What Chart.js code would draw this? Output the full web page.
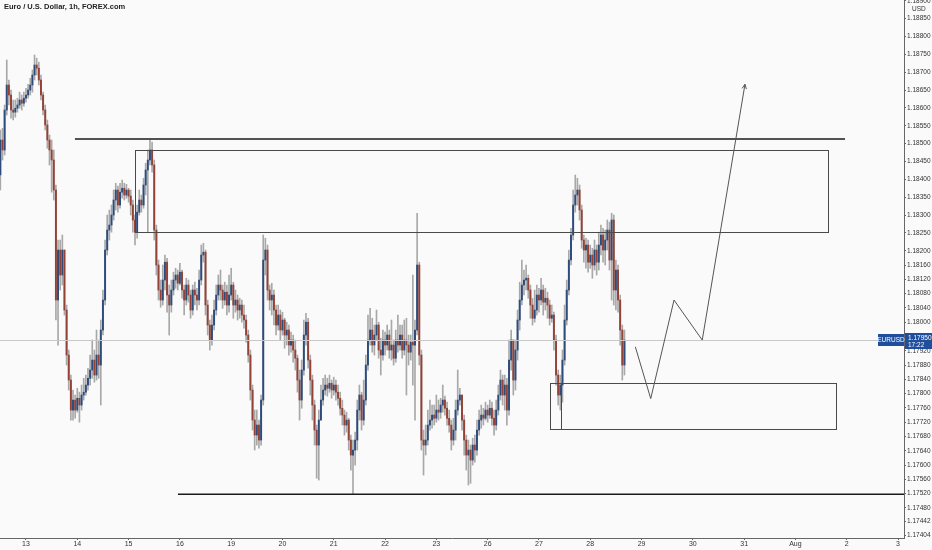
<!DOCTYPE html>
<html>
<head>
<meta charset="utf-8">
<script src="https://cdn.jsdelivr.net/npm/chart.js@4.4.0/dist/chart.umd.min.js"></script>
<style>
  html, body { margin: 0; padding: 0; background: #fafafa; }
  #wrap { position: relative; width: 932px; height: 550px; }
  #title { position: absolute; left: 4px; top: 2px; font: bold 7.5px "Liberation Sans", Arial, sans-serif; color: #222; }
</style>
</head>
<body>
<div id="wrap">
  <canvas id="chart" width="932" height="550"></canvas>
  <div id="title">Euro / U.S. Dollar, 1h, FOREX.com</div>
</div>
<script>
// Rótulos do eixo de tempo (um por dia de negociação / futuro)
const dayLabels = ['13', '14', '15', '16', '19', '20', '21', '22', '23', '26', '27', '28', '29', '30', '31', 'Aug', '2', '3'];

// Rótulos do eixo de preço (como aparecem no gráfico)
const priceTicks = ['1.18900', '1.18850', '1.18800', '1.18750', '1.18700', '1.18650', '1.18600', '1.18550',
    '1.18500', '1.18450', '1.18400', '1.18350', '1.18300', '1.18250', '1.18200', '1.18160', '1.18120',
    '1.18080', '1.18040', '1.18000', '1.17960', '1.17920', '1.17880', '1.17840', '1.17800', '1.17760', '1.17720',
    '1.17680', '1.17640', '1.17600', '1.17560', '1.17520', '1.17480', '1.17442', '1.17404'];

// Velas de 1h: hora da primeira vela (relativa a 13/07 00:00)
const firstHour = -12;
const firstOpen = 1.18412;

const closes = [
    1.18510, 1.18482, 1.18594, 1.18664, 1.18636, 1.18594, 1.18588, 1.18599, 1.18608, 1.18622,
    1.18613, 1.18627, 1.18636, 1.18650, 1.18664, 1.18692, 1.18720, 1.18711, 1.18678, 1.18636,
    1.18594, 1.18552, 1.18510, 1.18482, 1.18454, 1.18370, 1.18062, 1.18202, 1.18132, 1.18202,
    1.18034, 1.17908, 1.17838, 1.17754, 1.17782, 1.17754, 1.17787, 1.17768, 1.17796, 1.17804,
    1.17824, 1.17843, 1.17866, 1.17894, 1.17852, 1.17908, 1.17880, 1.17978, 1.18062, 1.18202,
    1.18258, 1.18272, 1.18300, 1.18342, 1.18370, 1.18328, 1.18364, 1.18375, 1.18356, 1.18370,
    1.18353, 1.18328, 1.18286, 1.18252, 1.18308, 1.18342, 1.18328, 1.18384, 1.18426, 1.18454,
    1.18482, 1.18440, 1.18258, 1.18160, 1.18090, 1.18062, 1.18118, 1.18168, 1.18076, 1.18048,
    1.18090, 1.18118, 1.18132, 1.18109, 1.18140, 1.18090, 1.18062, 1.18104, 1.18076, 1.18034,
    1.18090, 1.18076, 1.18062, 1.18118, 1.18188, 1.18196, 1.18048, 1.17992, 1.17950, 1.17992,
    1.18034, 1.18076, 1.18104, 1.18090, 1.18062, 1.18084, 1.18048, 1.18076, 1.18104, 1.18048,
    1.18062, 1.18034, 1.18048, 1.18020, 1.18006, 1.17964, 1.17908, 1.17810, 1.17726, 1.17684,
    1.17712, 1.17670, 1.17782, 1.18174, 1.18202, 1.18090, 1.18062, 1.18076, 1.18034, 1.17992,
    1.18020, 1.17978, 1.18006, 1.17964, 1.17978, 1.17936, 1.17950, 1.17922, 1.17899, 1.17838,
    1.17782, 1.17866, 1.17964, 1.18000, 1.17894, 1.17838, 1.17768, 1.17698, 1.17656, 1.17726,
    1.17782, 1.17810, 1.17824, 1.17815, 1.17829, 1.17810, 1.17824, 1.17804, 1.17787, 1.17759,
    1.17740, 1.17712, 1.17726, 1.17670, 1.17628, 1.17642, 1.17670, 1.17754, 1.17796, 1.17726,
    1.17782, 1.17880, 1.17950, 1.17978, 1.17936, 1.17964, 1.17992, 1.17922, 1.17908, 1.17950,
    1.17936, 1.17964, 1.17922, 1.17936, 1.17899, 1.17950, 1.17936, 1.17964, 1.17922, 1.17950,
    1.17936, 1.17916, 1.17944, 1.17936, 1.17978, 1.18160, 1.17908, 1.17670, 1.17656, 1.17670,
    1.17712, 1.17726, 1.17740, 1.17731, 1.17754, 1.17748, 1.17768, 1.17782, 1.17759, 1.17731,
    1.17712, 1.17670, 1.17698, 1.17754, 1.17782, 1.17796, 1.17726, 1.17670, 1.17628, 1.17642,
    1.17614, 1.17656, 1.17642, 1.17698, 1.17726, 1.17740, 1.17731, 1.17754, 1.17740, 1.17759,
    1.17731, 1.17712, 1.17754, 1.17796, 1.17838, 1.17796, 1.17824, 1.17754, 1.17894, 1.17950,
    1.17838, 1.17922, 1.18006, 1.18062, 1.18104, 1.18118, 1.18123, 1.18090, 1.18048, 1.18011,
    1.18034, 1.18076, 1.18062, 1.18090, 1.18056, 1.18067, 1.18048, 1.18011, 1.18020, 1.17950,
    1.17852, 1.17796, 1.17824, 1.17894, 1.18006, 1.18090, 1.18174, 1.18244, 1.18328, 1.18356,
    1.18370, 1.18314, 1.18230, 1.18202, 1.18216, 1.18168, 1.18188, 1.18160, 1.18202, 1.18168,
    1.18216, 1.18244, 1.18202, 1.18230, 1.18258, 1.18174, 1.18286, 1.18090, 1.18146, 1.18062,
    1.17978, 1.17880, 1.17950
];

const highs = [
    1.18538, 1.18543, 1.18608, 1.18734, 1.18678, 1.18650, 1.18622, 1.18622, 1.18627, 1.18644,
    1.18636, 1.18644, 1.18655, 1.18666, 1.18683, 1.18706, 1.18748, 1.18739, 1.18728, 1.18692,
    1.18644, 1.18608, 1.18566, 1.18524, 1.18510, 1.18482, 1.18384, 1.18230, 1.18230, 1.18244,
    1.18188, 1.18048, 1.17922, 1.17852, 1.17810, 1.17796, 1.17815, 1.17804, 1.17824, 1.17843,
    1.17852, 1.17871, 1.17908, 1.17950, 1.17922, 1.17978, 1.17950, 1.18006, 1.18090, 1.18230,
    1.18300, 1.18314, 1.18328, 1.18370, 1.18389, 1.18381, 1.18389, 1.18398, 1.18389, 1.18386,
    1.18375, 1.18370, 1.18342, 1.18300, 1.18328, 1.18370, 1.18356, 1.18403, 1.18445, 1.18482,
    1.18510, 1.18504, 1.18454, 1.18272, 1.18174, 1.18118, 1.18160, 1.18188, 1.18179, 1.18104,
    1.18118, 1.18140, 1.18151, 1.18146, 1.18165, 1.18146, 1.18104, 1.18123, 1.18118, 1.18090,
    1.18104, 1.18112, 1.18095, 1.18146, 1.18216, 1.18221, 1.18202, 1.18062, 1.18006, 1.18020,
    1.18062, 1.18104, 1.18132, 1.18146, 1.18104, 1.18112, 1.18104, 1.18132, 1.18151, 1.18112,
    1.18090, 1.18076, 1.18067, 1.18062, 1.18048, 1.18020, 1.17978, 1.17922, 1.17824, 1.17754,
    1.17754, 1.17726, 1.17796, 1.18244, 1.18235, 1.18216, 1.18104, 1.18109, 1.18090, 1.18048,
    1.18048, 1.18034, 1.18028, 1.18011, 1.18000, 1.17992, 1.17972, 1.17964, 1.17950, 1.17908,
    1.17866, 1.17894, 1.18006, 1.18025, 1.18011, 1.17908, 1.17852, 1.17782, 1.17712, 1.17754,
    1.17824, 1.17843, 1.17852, 1.17843, 1.17852, 1.17838, 1.17846, 1.17838, 1.17824, 1.17804,
    1.17782, 1.17754, 1.17748, 1.17731, 1.17684, 1.17670, 1.17692, 1.17782, 1.17824, 1.17804,
    1.17838, 1.17908, 1.18020, 1.18039, 1.18011, 1.17992, 1.18034, 1.18000, 1.17955, 1.17978,
    1.17972, 1.17992, 1.17978, 1.18006, 1.17950, 1.17978, 1.18020, 1.17992, 1.17992, 1.18006,
    1.18011, 1.17964, 1.17964, 1.18132, 1.18006, 1.18305, 1.18168, 1.17922, 1.17698, 1.17712,
    1.17754, 1.17782, 1.17768, 1.17768, 1.17796, 1.17782, 1.17787, 1.17824, 1.17793, 1.17776,
    1.17754, 1.17726, 1.17731, 1.17782, 1.17866, 1.17815, 1.17796, 1.17740, 1.17684, 1.17670,
    1.17656, 1.17675, 1.17684, 1.17726, 1.17754, 1.17768, 1.17759, 1.17776, 1.17768, 1.17782,
    1.17776, 1.17754, 1.17782, 1.17824, 1.17866, 1.17852, 1.17852, 1.17843, 1.17950, 1.17978,
    1.17950, 1.17950, 1.18034, 1.18112, 1.18174, 1.18146, 1.18160, 1.18132, 1.18104, 1.18067,
    1.18090, 1.18104, 1.18095, 1.18123, 1.18104, 1.18095, 1.18084, 1.18062, 1.18048, 1.18028,
    1.17964, 1.17866, 1.17852, 1.17922, 1.18048, 1.18118, 1.18202, 1.18263, 1.18370, 1.18412,
    1.18403, 1.18384, 1.18328, 1.18244, 1.18235, 1.18230, 1.18216, 1.18207, 1.18230, 1.18216,
    1.18252, 1.18272, 1.18263, 1.18258, 1.18286, 1.18280, 1.18305, 1.18300, 1.18174, 1.18160,
    1.18076, 1.17992, 1.17978
];

const lows = [
    1.18370, 1.18454, 1.18468, 1.18580, 1.18608, 1.18571, 1.18566, 1.18574, 1.18588, 1.18599,
    1.18594, 1.18605, 1.18616, 1.18627, 1.18636, 1.18644, 1.18678, 1.18692, 1.18664, 1.18622,
    1.18580, 1.18538, 1.18487, 1.18440, 1.18364, 1.18342, 1.18006, 1.17936, 1.18090, 1.18104,
    1.18020, 1.17880, 1.17810, 1.17726, 1.17726, 1.17731, 1.17748, 1.17720, 1.17754, 1.17782,
    1.17796, 1.17810, 1.17824, 1.17843, 1.17832, 1.17838, 1.17843, 1.17768, 1.17964, 1.18048,
    1.18188, 1.18230, 1.18252, 1.18286, 1.18314, 1.18308, 1.18319, 1.18347, 1.18342, 1.18347,
    1.18336, 1.18300, 1.18252, 1.18216, 1.18235, 1.18300, 1.18308, 1.18319, 1.18356, 1.18252,
    1.18440, 1.18420, 1.18230, 1.18132, 1.18062, 1.18042, 1.18048, 1.18090, 1.18028, 1.17964,
    1.18028, 1.18076, 1.18095, 1.18090, 1.18104, 1.18067, 1.18020, 1.18048, 1.18056, 1.18011,
    1.18020, 1.18048, 1.18034, 1.18048, 1.18104, 1.18168, 1.18020, 1.17964, 1.17922, 1.17936,
    1.17978, 1.18020, 1.18062, 1.18062, 1.18039, 1.18048, 1.18020, 1.18028, 1.18062, 1.18011,
    1.18028, 1.18006, 1.18011, 1.18000, 1.17983, 1.17944, 1.17888, 1.17782, 1.17698, 1.17642,
    1.17656, 1.17647, 1.17656, 1.17768, 1.18132, 1.18062, 1.18034, 1.18020, 1.17992, 1.17964,
    1.17978, 1.17950, 1.17964, 1.17927, 1.17936, 1.17908, 1.17916, 1.17888, 1.17866, 1.17804,
    1.17726, 1.17759, 1.17852, 1.17936, 1.17871, 1.17796, 1.17726, 1.17656, 1.17563, 1.17558,
    1.17726, 1.17768, 1.17796, 1.17793, 1.17804, 1.17787, 1.17796, 1.17782, 1.17768, 1.17740,
    1.17712, 1.17684, 1.17692, 1.17642, 1.17586, 1.17518, 1.17600, 1.17642, 1.17726, 1.17698,
    1.17712, 1.17768, 1.17866, 1.17936, 1.17916, 1.17908, 1.17950, 1.17899, 1.17852, 1.17894,
    1.17908, 1.17922, 1.17899, 1.17894, 1.17880, 1.17888, 1.17916, 1.17922, 1.17899, 1.17908,
    1.17796, 1.17880, 1.17894, 1.17824, 1.17726, 1.17964, 1.17880, 1.17642, 1.17572, 1.17628,
    1.17656, 1.17698, 1.17703, 1.17712, 1.17720, 1.17726, 1.17731, 1.17748, 1.17740, 1.17712,
    1.17692, 1.17642, 1.17656, 1.17670, 1.17740, 1.17768, 1.17698, 1.17628, 1.17586, 1.17544,
    1.17549, 1.17600, 1.17608, 1.17628, 1.17684, 1.17703, 1.17712, 1.17726, 1.17720, 1.17731,
    1.17712, 1.17684, 1.17698, 1.17740, 1.17782, 1.17768, 1.17754, 1.17712, 1.17740, 1.17866,
    1.17796, 1.17810, 1.17894, 1.17978, 1.18048, 1.18076, 1.18090, 1.18067, 1.18011, 1.17992,
    1.18000, 1.18020, 1.18028, 1.18048, 1.18020, 1.18034, 1.18011, 1.17992, 1.18000, 1.17922,
    1.17824, 1.17768, 1.17754, 1.17776, 1.17880, 1.17992, 1.18076, 1.18160, 1.18230, 1.18308,
    1.18328, 1.18286, 1.18207, 1.18168, 1.18151, 1.18140, 1.18151, 1.18123, 1.18146, 1.18132,
    1.18146, 1.18188, 1.18168, 1.18160, 1.18202, 1.18146, 1.18062, 1.18048, 1.18034, 1.18028,
    1.17936, 1.17838, 1.17852
];

// Preço atual mostrado no eixo
const lastPrice = 1.17950;
const lastPriceTime = '17:22';

// Desenhos do analista (tempo em horas, preço)
const drawings = {
    topLine: { from: 22.9, to: 383.2, price: 1.18513 },
    bottomLine: { from: 71.1, to: 420, price: 1.17518 },
    upperZone: { from: 51.0, to: 375.2, top: 1.18483, bottom: 1.18253 },
    lowerZone: { from: 245.1, to: 379.0, top: 1.17830, bottom: 1.17700, split: 250.3 },
    path: [[285.1, 1.17931], [292.3, 1.17786], [303.2, 1.18062], [316.4, 1.17950], [336.4, 1.18666]]
};

const opens = [firstOpen].concat(closes.slice(0, -1));
const hours = closes.map((c, i) => firstHour + i);

const wickData = hours.map((h, i) => ({
    x: h,
    y: [Math.min(lows[i], opens[i], closes[i]), Math.max(highs[i], opens[i], closes[i])]
}));
const bodyData = hours.map((h, i) => ({ x: h, y: [opens[i], closes[i]] }));
const bodyColors = closes.map((c, i) => c >= opens[i] ? '#2d4c7c' : '#944236');

const overlayPlugin = {
    id: 'overlay',
    beforeDraw(chart) {
        const ctx = chart.ctx;
        ctx.save();
        ctx.fillStyle = '#fafafa';
        ctx.fillRect(0, 0, chart.width, chart.height);
        ctx.restore();
    },
    afterDatasetsDraw(chart) {
        const ctx = chart.ctx;
        const x = chart.scales.x, y = chart.scales.y;
        const area = chart.chartArea;
        const px = v => x.getPixelForValue(v);
        const py = v => y.getPixelForValue(v);
        ctx.save();

        // linha do preço atual
        ctx.strokeStyle = '#c8c8c8';
        ctx.lineWidth = 1;
        ctx.beginPath();
        ctx.moveTo(area.left, Math.round(py(lastPrice)) + 0.5);
        ctx.lineTo(area.right, Math.round(py(lastPrice)) + 0.5);
        ctx.stroke();

        // zonas
        ctx.strokeStyle = '#4a4a4a';
        ctx.lineWidth = 1;
        const z1 = drawings.upperZone, z2 = drawings.lowerZone;
        ctx.strokeRect(Math.round(px(z1.from)) + 0.5, Math.round(py(z1.top)) + 0.5,
            Math.round(px(z1.to) - px(z1.from)), Math.round(py(z1.bottom) - py(z1.top)));
        ctx.strokeRect(Math.round(px(z2.from)) + 0.5, Math.round(py(z2.top)) + 0.5,
            Math.round(px(z2.to) - px(z2.from)), Math.round(py(z2.bottom) - py(z2.top)));
        ctx.beginPath();
        ctx.moveTo(Math.round(px(z2.split)) + 0.5, py(z2.top));
        ctx.lineTo(Math.round(px(z2.split)) + 0.5, py(z2.bottom));
        ctx.stroke();

        // linhas horizontais
        ctx.strokeStyle = '#1a1a1a';
        ctx.lineWidth = 1.5;
        [drawings.topLine, drawings.bottomLine].forEach(l => {
            ctx.beginPath();
            ctx.moveTo(px(l.from), py(l.price));
            ctx.lineTo(Math.min(px(l.to), area.right), py(l.price));
            ctx.stroke();
        });

        // caminho projetado com seta
        ctx.strokeStyle = '#555';
        ctx.lineWidth = 1;
        ctx.beginPath();
        drawings.path.forEach((p, i) => {
            if (i === 0) ctx.moveTo(px(p[0]), py(p[1]));
            else ctx.lineTo(px(p[0]), py(p[1]));
        });
        ctx.stroke();
        const n = drawings.path.length;
        const ex = px(drawings.path[n - 1][0]), ey = py(drawings.path[n - 1][1]);
        const sx = px(drawings.path[n - 2][0]), sy = py(drawings.path[n - 2][1]);
        const ang = Math.atan2(ey - sy, ex - sx);
        ctx.beginPath();
        ctx.moveTo(ex - 5 * Math.cos(ang - 0.45), ey - 5 * Math.sin(ang - 0.45));
        ctx.lineTo(ex, ey);
        ctx.lineTo(ex - 5 * Math.cos(ang + 0.45), ey - 5 * Math.sin(ang + 0.45));
        ctx.stroke();
        ctx.restore();
    },
    afterDraw(chart) {
        const ctx = chart.ctx;
        const y = chart.scales.y;
        const area = chart.chartArea;
        const yy = Math.round(y.getPixelForValue(lastPrice));
        ctx.save();
        // etiqueta do símbolo
        ctx.fillStyle = '#1f4e9c';
        ctx.fillRect(area.right - 26, yy - 6, 26, 12);
        ctx.fillRect(area.right + 1, yy - 7, 28, 16);
        ctx.fillStyle = '#ffffff';
        ctx.font = '6.5px "Liberation Sans", Arial, sans-serif';
        ctx.textBaseline = 'middle';
        ctx.textAlign = 'center';
        ctx.fillText('EURUSD', area.right - 13, yy);
        ctx.textAlign = 'left';
        ctx.fillText(lastPrice.toFixed(5), area.right + 4, yy - 2);
        ctx.fillText(lastPriceTime, area.right + 4, yy + 5);
        // moeda
        ctx.fillStyle = '#333';
        ctx.fillText('USD', area.right + 8, 9);
        ctx.restore();
    }
};

new Chart(document.getElementById('chart').getContext('2d'), {
    type: 'bar',
    data: {
        datasets: [
            {
                label: 'body',
                data: bodyData,
                backgroundColor: bodyColors,
                borderWidth: 0,
                barThickness: 1.3,
                grouped: false,
                order: 0
            },
            {
                label: 'wick',
                data: wickData,
                backgroundColor: '#a8a8a8',
                borderWidth: 0,
                barThickness: 1,
                grouped: false,
                order: 1
            }
        ]
    },
    options: {
        responsive: false,
        animation: false,
        devicePixelRatio: 1,
        layout: { padding: 0 },
        plugins: { legend: { display: false }, tooltip: { enabled: false } },
        scales: {
            x: {
                type: 'linear',
                min: -12.16,
                max: 410.8,
                offset: false,
                grid: { display: true, offset: false, drawOnChartArea: false, drawTicks: true, tickLength: 2, color: '#666' },
                border: { display: true, color: '#666', width: 1 },
                afterBuildTicks: scale => { scale.ticks = dayLabels.map((l, i) => ({ value: i * 24 })); },
                afterFit: scale => { scale.height = 12; scale.paddingLeft = 0; scale.paddingRight = 0; },
                ticks: {
                    autoSkip: false,
                    maxRotation: 0,
                    padding: 0,
                    color: '#333',
                    font: { size: 7, family: '"Liberation Sans", Arial, sans-serif' },
                    callback: (v, i) => dayLabels[i]
                }
            },
            y: {
                type: 'linear',
                position: 'right',
                min: 1.173958,
                max: 1.189020,
                grid: { display: true, offset: false, drawOnChartArea: false, drawTicks: true, tickLength: 2, color: '#666' },
                border: { display: true, color: '#666', width: 1 },
                afterBuildTicks: scale => { scale.ticks = priceTicks.map(t => ({ value: parseFloat(t) })); },
                afterFit: scale => { scale.width = 28; scale.paddingTop = 0; scale.paddingBottom = 0; },
                ticks: {
                    autoSkip: false,
                    padding: 1,
                    color: '#333',
                    font: { size: 6.5, family: '"Liberation Sans", Arial, sans-serif' },
                    callback: (v, i) => priceTicks[i]
                }
            }
        }
    },
    plugins: [overlayPlugin]
});
</script>
</body>
</html>
